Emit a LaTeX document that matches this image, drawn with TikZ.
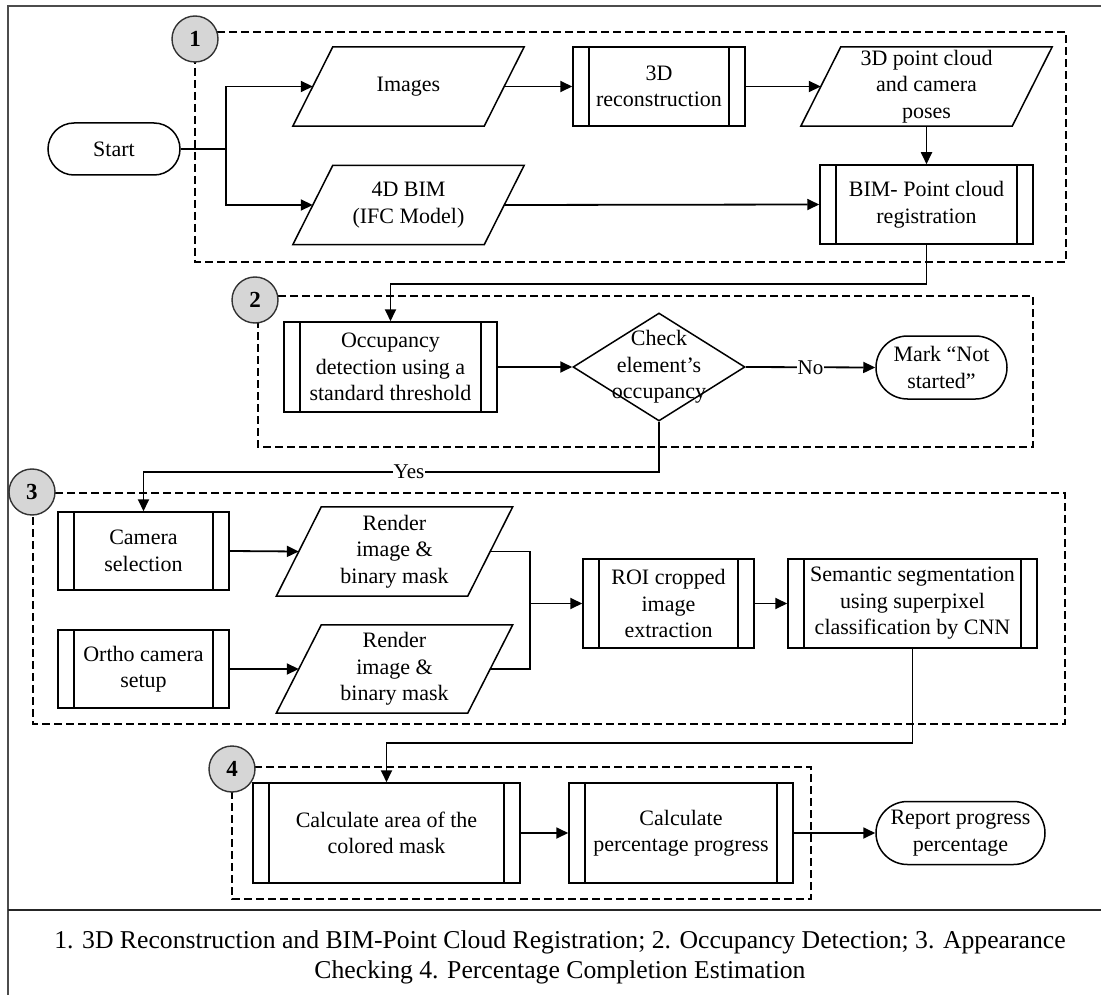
\documentclass[tikz,border=0pt]{standalone}
\usepackage{fontspec}
\setmainfont{Liberation Serif}
\usetikzlibrary{shapes.geometric,shapes.misc,arrows.meta,calc}
\newcommand\iobox[2]{%
  \draw[line width=1.5pt] ($(#1.north west)+(#2,0)$) -- ($(#1.north east)+(#2,0)$) -- ($(#1.south east)+(-#2,0)$) -- ($(#1.south west)+(-#2,0)$) -- cycle;}
\begin{document}
\begin{tikzpicture}[x=1pt,y=-1pt,
  base/.style={font=\fontsize{22}{26.5}\selectfont, align=center, inner sep=0pt},
  proc/.style={base, draw, rectangle, line width=1.5pt,
    path picture={\draw[line width=1.5pt]
      ([xshift=16pt]path picture bounding box.north west) -- ([xshift=16pt]path picture bounding box.south west)
      ([xshift=-16pt]path picture bounding box.north east) -- ([xshift=-16pt]path picture bounding box.south east);}},
  term/.style={base, draw, rounded rectangle, line width=1.5pt},
  iob/.style={base, rectangle},
  dec/.style={base, draw, diamond, line width=1.5pt},
  conn/.style={line width=1.8pt},
  arr/.style={conn, -{Triangle[length=12pt,width=11pt]}},
  lbl/.style={font=\fontsize{21}{21}\selectfont, fill=white, inner sep=1pt},
  dashbox/.style={line width=1.1pt, dash pattern=on 8pt off 4pt},
  num/.style={circle, draw=black!80, fill=black!16, line width=1.4pt, minimum size=46pt,
    font=\fontsize{23}{23}\selectfont\bfseries, inner sep=0pt}]
\useasboundingbox (0,0) rectangle (1101,995);
\fill[white] (0,0) rectangle (1101,995);
% frame
\draw[line width=2pt, black!70] (1101,6) -- (8,6) -- (8,995);
\draw[line width=1.5pt, black!85] (8,910) -- (1101,910);
% dashed groups
\draw[dashbox] (195,32) rectangle (1066,262);
\draw[dashbox] (258,296) rectangle (1033,447);
\draw[dashbox] (33,493) rectangle (1065,724);
\draw[dashbox] (232,767) rectangle (811,899);
% nodes
\node[term, minimum width=132pt, minimum height=52pt] (start) at (114,149) {Start};
\node[iob, minimum width=191pt, minimum height=79pt] (img) at (408.5,86.5) {Images};
\iobox{img}{20}
\node[proc, minimum width=172pt, minimum height=79pt] (rec) at (659,86.5) {3D\\reconstruction};
\node[iob, minimum width=211pt, minimum height=79pt] (pc) at (926.5,86.5) {3D point cloud\\and camera\\poses};
\iobox{pc}{20}
\node[iob, minimum width=191pt, minimum height=79pt] (bim) at (408.5,205) {4D BIM\\(IFC Model)};
\iobox{bim}{20}
\node[proc, minimum width=213pt, minimum height=79pt] (reg) at (926.5,204.5) {BIM- Point cloud\\registration};
\node[proc, minimum width=213pt, minimum height=90pt] (occ) at (390.5,367) {Occupancy\\detection using a\\standard threshold};
\node[dec, minimum width=172pt, minimum height=108pt] (chk) at (659,367) {};
\node[base] (chktxt) at (chk) {Check\\element’s\\occupancy};
\node[term, minimum width=131pt, minimum height=63pt] (mark) at (941.5,367.5) {Mark “Not\\started”};
\node[proc, minimum width=171pt, minimum height=78pt] (cam) at (143.5,551) {Camera\\selection};
\node[iob, minimum width=191pt, minimum height=89pt] (r1) at (394.5,551.5) {Render\\image \&\\binary mask};
\iobox{r1}{22.5}
\node[proc, minimum width=171pt, minimum height=78pt] (orth) at (143.5,669) {Ortho camera\\setup};
\node[iob, minimum width=191pt, minimum height=88pt] (r2) at (394.5,669) {Render\\image \&\\binary mask};
\iobox{r2}{22.5}
\node[proc, minimum width=171pt, minimum height=89pt] (roi) at (668.5,603.5) {ROI cropped\\image\\extraction};
\node[proc, minimum width=249pt, minimum height=89pt] (sem) at (912.5,603.5) {Semantic segmentation\\using superpixel\\classification by CNN};
\node[proc, minimum width=267pt, minimum height=100pt] (area) at (386.5,833) {Calculate area of the\\colored mask};
\node[proc, minimum width=224pt, minimum height=100pt] (pct) at (681,833) {Calculate\\percentage progress};
\node[term, minimum width=169pt, minimum height=63pt] (rep) at (960.5,833) {Report progress\\percentage};
% numbered circles
\node[num] (n1) at (195,39) {1};
\node[num] (n2) at (255,300) {2};
\node[num] (n3) at (32,492) {3};
\node[num] (n4) at (232,769) {4};
% connectors
\coordinate (j1) at (226,149);
\draw[conn] (start.east) -- (j1);
\draw[arr] (j1) |- (img.west);
\draw[arr] (j1) |- (bim.west);
\draw[arr] (img.east) -- (rec.west);
\draw[arr] (rec.east) -- (pc.west);
\draw[arr] (pc.south) -- (reg.north);
\draw[arr] (bim.east) -- (reg.west);
\coordinate (k1) at (0,284);
\draw[arr] (reg.south) -- (reg.south |- k1) -| (occ.north);
\draw[arr] (occ.east) -- (chk.west);
\draw[arr] (chk.east) -- node[lbl]{No} (mark.west);
\coordinate (k2) at (0,472);
\draw[arr] (chk.south) -- (chk.south |- k2) -- node[lbl, pos=0.485]{Yes} (cam.north |- k2) -- (cam.north);
\draw[arr] (cam.east) -- (r1.west);
\draw[arr] (orth.east) -- (r2.west);
\coordinate (j2) at (530,603.5);
\draw[conn] (r1.east) -| (j2);
\draw[conn] (r2.east) -| (j2);
\draw[arr] (j2) -- (roi.west);
\draw[arr] (roi.east) -- (sem.west);
\coordinate (k3) at (0,743);
\draw[arr] (sem.south) -- (sem.south |- k3) -| (area.north);
\draw[arr] (area.east) -- (pct.west);
\draw[arr] (pct.east) -- (rep.west);
% caption
\node[font=\fontsize{25.7}{30}\selectfont, align=center] (cap) at (560,957)
  {1. 3D Reconstruction and BIM-Point Cloud Registration; 2. Occupancy Detection; 3. Appearance\\Checking 4. Percentage Completion Estimation};
\end{tikzpicture}
\end{document}
